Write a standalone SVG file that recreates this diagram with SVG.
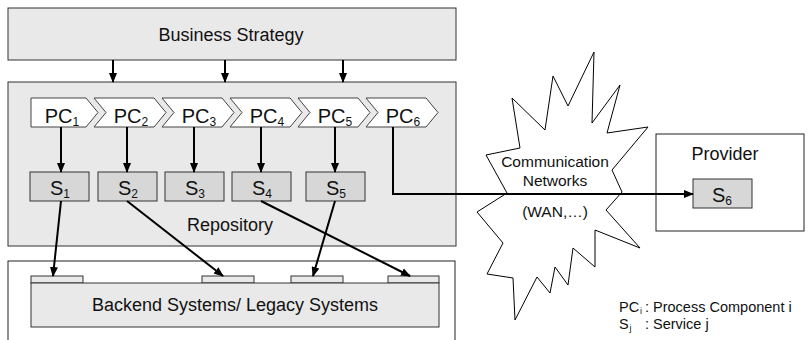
<svg xmlns="http://www.w3.org/2000/svg" width="808" height="340" viewBox="0 0 808 340">
<defs>
<marker id="ah" markerWidth="10" markerHeight="8" refX="9" refY="4" orient="auto" markerUnits="userSpaceOnUse">
<path d="M0,0 L10,4 L0,8 Z" fill="#000"/>
</marker>
<style>
.box{fill:#e9e9e9;stroke:#333;stroke-width:1}
.wbox{fill:#fff;stroke:#222;stroke-width:1}
.sbox{fill:#d7d7d7;stroke:#333;stroke-width:1}
.chev{fill:#fff;stroke:#444;stroke-width:1}
.t{font-family:"Liberation Sans",Arial,sans-serif;fill:#111;text-anchor:middle}
.l{font-family:"Liberation Sans",Arial,sans-serif;fill:#111;font-size:14.5px}
.ls{font-family:"Liberation Sans",Arial,sans-serif;fill:#111;font-size:9px}
.f18{font-size:18px}
.f20{font-size:20px}
.f15{font-size:15.5px}
.sub{font-size:12px}
.con{fill:none;stroke:#000;stroke-width:2;marker-end:url(#ah)}
</style>
</defs>

<g id="business-strategy">
<rect class="box" x="8" y="8" width="448" height="52"/>
<text class="t f18" x="231" y="41">Business Strategy</text>
</g>

<g id="repository">
<rect class="box" x="8" y="82" width="448" height="164"/>
<text class="t f18" x="230" y="231">Repository</text>
</g>

<g id="backend-outer">
<rect class="wbox" x="8" y="261" width="447" height="90"/>
</g>

<g id="backend">
<rect class="box" x="31" y="276" width="52" height="7"/>
<rect class="box" x="202" y="276" width="52" height="7"/>
<rect class="box" x="291" y="276" width="52" height="7"/>
<rect class="box" x="388" y="276" width="51" height="7"/>
<rect class="box" x="31" y="283" width="408" height="44"/>
<text class="t f18" x="235" y="311">Backend Systems/ Legacy Systems</text>
</g>

<g id="pc1">
<polygon class="chev" points="31,98 86,98 98,112.5 86,127 31,127"/>
<text class="t f20" x="62" y="123">PC<tspan class="sub" dy="3">1</tspan></text>
</g>
<g id="pc2">
<polygon class="chev" points="94,98 154,98 166,112.5 154,127 94,127 106,112.5"/>
<text class="t f20" x="131" y="123">PC<tspan class="sub" dy="3">2</tspan></text>
</g>
<g id="pc3">
<polygon class="chev" points="162,98 222,98 234,112.5 222,127 162,127 174,112.5"/>
<text class="t f20" x="199" y="123">PC<tspan class="sub" dy="3">3</tspan></text>
</g>
<g id="pc4">
<polygon class="chev" points="230,98 290,98 302,112.5 290,127 230,127 242,112.5"/>
<text class="t f20" x="267" y="123">PC<tspan class="sub" dy="3">4</tspan></text>
</g>
<g id="pc5">
<polygon class="chev" points="298,98 358,98 370,112.5 358,127 298,127 310,112.5"/>
<text class="t f20" x="335" y="123">PC<tspan class="sub" dy="3">5</tspan></text>
</g>
<g id="pc6">
<polygon class="chev" points="366,98 426,98 438,112.5 426,127 366,127 378,112.5"/>
<text class="t f20" x="403" y="123">PC<tspan class="sub" dy="3">6</tspan></text>
</g>

<g id="s1">
<rect class="sbox" x="30" y="172" width="59" height="29"/>
<text class="t f20" x="60" y="195">S<tspan class="sub" dy="3">1</tspan></text>
</g>
<g id="s2">
<rect class="sbox" x="98" y="172" width="59" height="29"/>
<text class="t f20" x="128" y="195">S<tspan class="sub" dy="3">2</tspan></text>
</g>
<g id="s3">
<rect class="sbox" x="165" y="172" width="59" height="29"/>
<text class="t f20" x="195" y="195">S<tspan class="sub" dy="3">3</tspan></text>
</g>
<g id="s4">
<rect class="sbox" x="232" y="172" width="59" height="29"/>
<text class="t f20" x="262" y="195">S<tspan class="sub" dy="3">4</tspan></text>
</g>
<g id="s5">
<rect class="sbox" x="306" y="172" width="59" height="29"/>
<text class="t f20" x="336" y="195">S<tspan class="sub" dy="3">5</tspan></text>
</g>

<g id="network">
<polygon fill="#fff" stroke="#000" stroke-width="1" points="594,52 592,123 620,85 607,133 648,127 612,170 622,192 606,210 640,248 595,230 595,267 573,248 568,285 555,267 550,293 537,277 515,320 513,278 487,274 503,243 477,212 507,193 486,155 520,148 512,98 545,130 553,76 568,106"/>
<text class="t f15" x="555" y="167">Communication</text>
<text class="t f15" x="555" y="186">Networks</text>
<text class="t f15" x="555" y="217">(WAN,…)</text>
</g>

<g id="provider">
<rect class="wbox" x="656" y="134" width="148" height="97"/>
<text class="t f18" x="725" y="160">Provider</text>
</g>
<g id="s6">
<rect class="sbox" x="693" y="179" width="59" height="29"/>
<text class="t f20" x="722" y="202">S<tspan class="sub" dy="3">6</tspan></text>
</g>

<g id="connectors">
<line class="con" x1="113" y1="60" x2="113" y2="82"/>
<line class="con" x1="225" y1="60" x2="225" y2="82"/>
<line class="con" x1="343" y1="60" x2="343" y2="82"/>
<line class="con" x1="61" y1="127" x2="61" y2="172"/>
<line class="con" x1="127" y1="127" x2="127" y2="172"/>
<line class="con" x1="194" y1="127" x2="194" y2="172"/>
<line class="con" x1="261" y1="127" x2="261" y2="172"/>
<line class="con" x1="335" y1="127" x2="335" y2="172"/>
<polyline class="con" points="393,127 393,194 693,194"/>
<line class="con" x1="61" y1="201" x2="53" y2="276"/>
<line class="con" x1="127" y1="201" x2="223" y2="276"/>
<line class="con" x1="261" y1="201" x2="410" y2="276"/>
<line class="con" x1="335" y1="201" x2="313" y2="276"/>
</g>

<g id="legend">
<text class="l" x="619" y="312">PC</text>
<text class="ls" x="640" y="314">i</text>
<text class="l" x="645" y="312">: Process Component i</text>
<text class="l" x="619" y="329">S</text>
<text class="ls" x="629.5" y="331">j</text>
<text class="l" x="645" y="329">: Service j</text>
</g>
</svg>
